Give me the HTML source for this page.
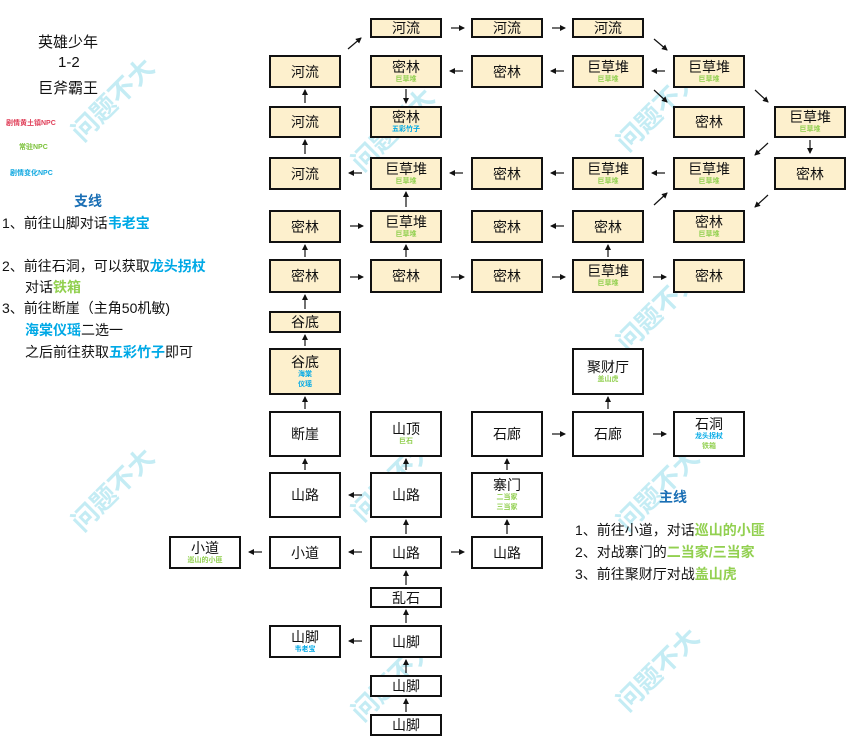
<!DOCTYPE html>
<html><head><meta charset="utf-8"><style>
body{margin:0;width:856px;height:740px;background:#fff;position:relative;overflow:hidden;font-family:"Liberation Sans","Noto Sans CJK SC",sans-serif;}
.b{position:absolute;box-sizing:border-box;border:2px solid #111;background:#fff;text-align:center;color:#111;font-size:14px;width:72px;display:flex;flex-direction:column;justify-content:center;align-items:center;line-height:16px}
.y{background:#fdf0cd}
.s{font-size:7px;line-height:10px;font-weight:bold}
.g{color:#92d050}.c{color:#00a9e6}
.t{position:absolute;font-size:14px;color:#111;white-space:nowrap}
.wm{position:absolute;font-size:26px;font-weight:bold;color:#c4ecf4;transform:rotate(-45deg);white-space:nowrap;font-family:"Noto Sans CJK SC",sans-serif}
svg{position:absolute;left:0;top:0}
</style></head><body>
<div class="wm" style="left:60px;top:80px">问题不大</div>
<div class="wm" style="left:340px;top:110px">问题不大</div>
<div class="wm" style="left:605px;top:90px">问题不大</div>
<div class="wm" style="left:605px;top:290px">问题不大</div>
<div class="wm" style="left:340px;top:460px">问题不大</div>
<div class="wm" style="left:605px;top:470px">问题不大</div>
<div class="wm" style="left:60px;top:470px">问题不大</div>
<div class="wm" style="left:340px;top:660px">问题不大</div>
<div class="wm" style="left:605px;top:650px">问题不大</div>

<div class="t" style="left:38px;top:31px;font-size:15px">英雄少年</div>
<div class="t" style="left:58px;top:54px;font-size:15px">1-2</div>
<div class="t" style="left:38px;top:77px;font-size:15px">巨斧霸王</div>
<div class="t" style="left:6px;top:118px;font-size:7px;font-weight:bold;color:#e0405a">剧情黄土镇NPC</div>
<div class="t" style="left:19px;top:142px;font-size:7px;font-weight:bold;color:#7cc23a">常驻NPC</div>
<div class="t" style="left:10px;top:168px;font-size:7px;font-weight:bold;color:#10a8e0">剧情变化NPC</div>
<div class="t" style="left:74px;top:191px;font-weight:bold;color:#1a6fb5">支线</div>
<div class="t" style="left:2px;top:213px">1、前往山脚对话<b class="c">韦老宝</b></div>
<div class="t" style="left:2px;top:256px">2、前往石洞，可以获取<b class="c">龙头拐杖</b></div>
<div class="t" style="left:25px;top:277px">对话<b class="g">铁箱</b></div>
<div class="t" style="left:2px;top:298px">3、前往断崖（主角50机敏)</div>
<div class="t" style="left:25px;top:320px"><b class="c">海棠仪瑶</b>二选一</div>
<div class="t" style="left:25px;top:342px">之后前往获取<b class="c">五彩竹子</b>即可</div>

<div class="t" style="left:659px;top:487px;font-weight:bold;color:#1a6fb5">主线</div>
<div class="t" style="left:575px;top:520px">1、前往小道，对话<b class="g">巡山的小匪</b></div>
<div class="t" style="left:575px;top:542px">2、对战寨门的<b class="g">二当家/三当家</b></div>
<div class="t" style="left:575px;top:564px">3、前往聚财厅对战<b class="g">盖山虎</b></div>

<div class="b y" style="left:370px;top:18px;height:20px">河流</div>
<div class="b y" style="left:471px;top:18px;height:20px">河流</div>
<div class="b y" style="left:572px;top:18px;height:20px">河流</div>

<div class="b y" style="left:269px;top:55px;height:33px">河流</div>
<div class="b y" style="left:370px;top:55px;height:33px">密林<span class="s g">巨草堆</span></div>
<div class="b y" style="left:471px;top:55px;height:33px">密林</div>
<div class="b y" style="left:572px;top:55px;height:33px">巨草堆<span class="s g">巨草堆</span></div>
<div class="b y" style="left:673px;top:55px;height:33px">巨草堆<span class="s g">巨草堆</span></div>

<div class="b y" style="left:269px;top:106px;height:32px">河流</div>
<div class="b y" style="left:370px;top:106px;height:32px">密林<span class="s c">五彩竹子</span></div>
<div class="b y" style="left:673px;top:106px;height:32px">密林</div>
<div class="b y" style="left:774px;top:106px;height:32px">巨草堆<span class="s g">巨草堆</span></div>

<div class="b y" style="left:269px;top:157px;height:33px">河流</div>
<div class="b y" style="left:370px;top:157px;height:33px">巨草堆<span class="s g">巨草堆</span></div>
<div class="b y" style="left:471px;top:157px;height:33px">密林</div>
<div class="b y" style="left:572px;top:157px;height:33px">巨草堆<span class="s g">巨草堆</span></div>
<div class="b y" style="left:673px;top:157px;height:33px">巨草堆<span class="s g">巨草堆</span></div>
<div class="b y" style="left:774px;top:157px;height:33px">密林</div>

<div class="b y" style="left:269px;top:210px;height:33px">密林</div>
<div class="b y" style="left:370px;top:210px;height:33px">巨草堆<span class="s g">巨草堆</span></div>
<div class="b y" style="left:471px;top:210px;height:33px">密林</div>
<div class="b y" style="left:572px;top:210px;height:33px">密林</div>
<div class="b y" style="left:673px;top:210px;height:33px">密林<span class="s g">巨草堆</span></div>

<div class="b y" style="left:269px;top:259px;height:34px">密林</div>
<div class="b y" style="left:370px;top:259px;height:34px">密林</div>
<div class="b y" style="left:471px;top:259px;height:34px">密林</div>
<div class="b y" style="left:572px;top:259px;height:34px">巨草堆<span class="s g">巨草堆</span></div>
<div class="b y" style="left:673px;top:259px;height:34px">密林</div>

<div class="b y" style="left:269px;top:311px;height:22px">谷底</div>
<div class="b y" style="left:269px;top:348px;height:47px">谷底<span class="s c">海棠</span><span class="s c">仪瑶</span></div>
<div class="b" style="left:572px;top:348px;height:47px">聚财厅<span class="s g">盖山虎</span></div>

<div class="b" style="left:269px;top:411px;height:46px">断崖</div>
<div class="b" style="left:370px;top:411px;height:46px">山顶<span class="s g">巨石</span></div>
<div class="b" style="left:471px;top:411px;height:46px">石廊</div>
<div class="b" style="left:572px;top:411px;height:46px">石廊</div>
<div class="b" style="left:673px;top:411px;height:46px">石洞<span class="s c">龙头拐杖</span><span class="s g">铁箱</span></div>

<div class="b" style="left:269px;top:472px;height:46px">山路</div>
<div class="b" style="left:370px;top:472px;height:46px">山路</div>
<div class="b" style="left:471px;top:472px;height:46px">寨门<span class="s g">二当家</span><span class="s g">三当家</span></div>

<div class="b" style="left:169px;top:536px;height:33px">小道<span class="s g">巡山的小匪</span></div>
<div class="b" style="left:269px;top:536px;height:33px">小道</div>
<div class="b" style="left:370px;top:536px;height:33px">山路</div>
<div class="b" style="left:471px;top:536px;height:33px">山路</div>

<div class="b" style="left:370px;top:587px;height:21px">乱石</div>
<div class="b" style="left:269px;top:625px;height:33px">山脚<span class="s c">韦老宝</span></div>
<div class="b" style="left:370px;top:625px;height:33px">山脚</div>
<div class="b" style="left:370px;top:675px;height:22px">山脚</div>
<div class="b" style="left:370px;top:714px;height:22px">山脚</div>

<svg width="856" height="740">
<defs><marker id="a" markerWidth="6" markerHeight="6" refX="5" refY="3" orient="auto" markerUnits="userSpaceOnUse"><path d="M0,0 L6,3 L0,6 z" fill="#111"/></marker></defs>
<g stroke="#111" stroke-width="1.2" marker-end="url(#a)">
<line x1="451" y1="28" x2="464" y2="28"/><line x1="552" y1="28" x2="565" y2="28"/>
<line x1="348" y1="49" x2="361" y2="38"/><line x1="654" y1="39" x2="667" y2="50"/>
<line x1="463" y1="71" x2="450" y2="71"/><line x1="564" y1="71" x2="551" y2="71"/><line x1="665" y1="71" x2="652" y2="71"/>
<line x1="406" y1="89" x2="406" y2="103"/>
<line x1="654" y1="90" x2="667" y2="102"/><line x1="755" y1="90" x2="768" y2="102"/>
<line x1="810" y1="140" x2="810" y2="153"/>
<line x1="768" y1="143" x2="755" y2="155"/><line x1="768" y1="195" x2="755" y2="207"/>
<line x1="665" y1="173" x2="652" y2="173"/><line x1="564" y1="173" x2="551" y2="173"/><line x1="463" y1="173" x2="450" y2="173"/><line x1="362" y1="173" x2="349" y2="173"/>
<line x1="305" y1="103" x2="305" y2="90"/><line x1="305" y1="154" x2="305" y2="140"/>
<line x1="406" y1="207" x2="406" y2="192"/>
<line x1="654" y1="205" x2="667" y2="193"/>
<line x1="350" y1="226" x2="363" y2="226"/><line x1="564" y1="226" x2="551" y2="226"/>
<line x1="305" y1="257" x2="305" y2="245"/><line x1="406" y1="257" x2="406" y2="245"/><line x1="608" y1="257" x2="608" y2="245"/>
<line x1="350" y1="277" x2="363" y2="277"/><line x1="451" y1="277" x2="464" y2="277"/><line x1="552" y1="277" x2="565" y2="277"/><line x1="653" y1="277" x2="666" y2="277"/>
<line x1="305" y1="309" x2="305" y2="295"/>
<line x1="305" y1="346" x2="305" y2="335"/>
<line x1="305" y1="409" x2="305" y2="397"/>
<line x1="608" y1="409" x2="608" y2="397"/>
<line x1="552" y1="434" x2="565" y2="434"/><line x1="653" y1="434" x2="666" y2="434"/>
<line x1="305" y1="470" x2="305" y2="459"/><line x1="406" y1="470" x2="406" y2="459"/><line x1="507" y1="470" x2="507" y2="459"/>
<line x1="362" y1="495" x2="349" y2="495"/>
<line x1="406" y1="534" x2="406" y2="520"/><line x1="507" y1="534" x2="507" y2="520"/>
<line x1="362" y1="552" x2="349" y2="552"/><line x1="262" y1="552" x2="249" y2="552"/><line x1="451" y1="552" x2="464" y2="552"/>
<line x1="406" y1="585" x2="406" y2="571"/>
<line x1="406" y1="623" x2="406" y2="610"/>
<line x1="362" y1="641" x2="349" y2="641"/>
<line x1="406" y1="673" x2="406" y2="660"/>
<line x1="406" y1="712" x2="406" y2="699"/>
</g></svg>
</body></html>
